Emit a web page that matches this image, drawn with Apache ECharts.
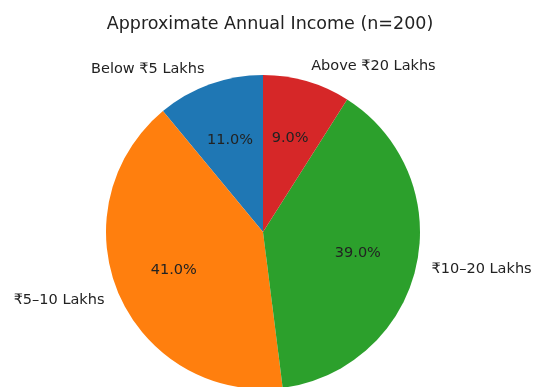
<!DOCTYPE html>
<html>
<head>
<meta charset="utf-8">
<script src="https://cdn.jsdelivr.net/npm/echarts@6/dist/echarts.min.js"></script>
<style>
html, body { margin: 0; padding: 0; background: #fff; }
#chart { width: 534px; height: 387px; }
</style>
</head>
<body>
<div id="chart"></div>
<script>
// data
const categories = ["Below ₹5 Lakhs", "₹5–10 Lakhs", "₹10–20 Lakhs", "Above ₹20 Lakhs"];
const shares = [11, 41, 39, 9];
const colors = ["#1f77b4", "#ff7f0e", "#2ca02c", "#d62728"];

const R = 157;
const center = [263, 232];

const pieData = categories.map((name, i) => ({
  name: name,
  value: shares[i],
  itemStyle: { color: colors[i] }
}));

const chart = echarts.init(document.getElementById("chart"));
chart.setOption({
  animation: false,
  title: {
    text: "Approximate Annual Income (n=200)",
    left: 265,
    top: 10,
    textAlign: "center",
    textStyle: { fontFamily: "DejaVu Sans", fontSize: 17.5, fontWeight: "normal", color: "#222" }
  },
  series: [
    {
      // slices + outer category labels
      type: "pie",
      center: center,
      radius: [0, R],
      startAngle: 90,
      clockwise: false,
      avoidLabelOverlap: false,
      silent: true,
      data: pieData,
      label: {
        show: true,
        position: "outside",
        distanceToLabelLine: 0,
        formatter: "{b}",
        fontFamily: "DejaVu Sans",
        fontSize: 14.5,
        color: "#222"
      },
      labelLine: { show: false, length: R * 0.1, length2: 0 }
    },
    {
      // percentage labels at 0.6 R
      type: "pie",
      center: center,
      radius: [R * 0.2, R],
      startAngle: 90,
      clockwise: false,
      avoidLabelOverlap: false,
      silent: true,
      data: categories.map((name, i) => ({ name: name, value: shares[i] })),
      itemStyle: { color: "rgba(0,0,0,0)" },
      label: {
        show: true,
        position: "inside",
        formatter: (p) => shares[p.dataIndex].toFixed(1) + "%",
        fontFamily: "DejaVu Sans",
        fontSize: 14.5,
        color: "#222"
      },
      labelLine: { show: false }
    }
  ]
});
</script>
</body>
</html>
